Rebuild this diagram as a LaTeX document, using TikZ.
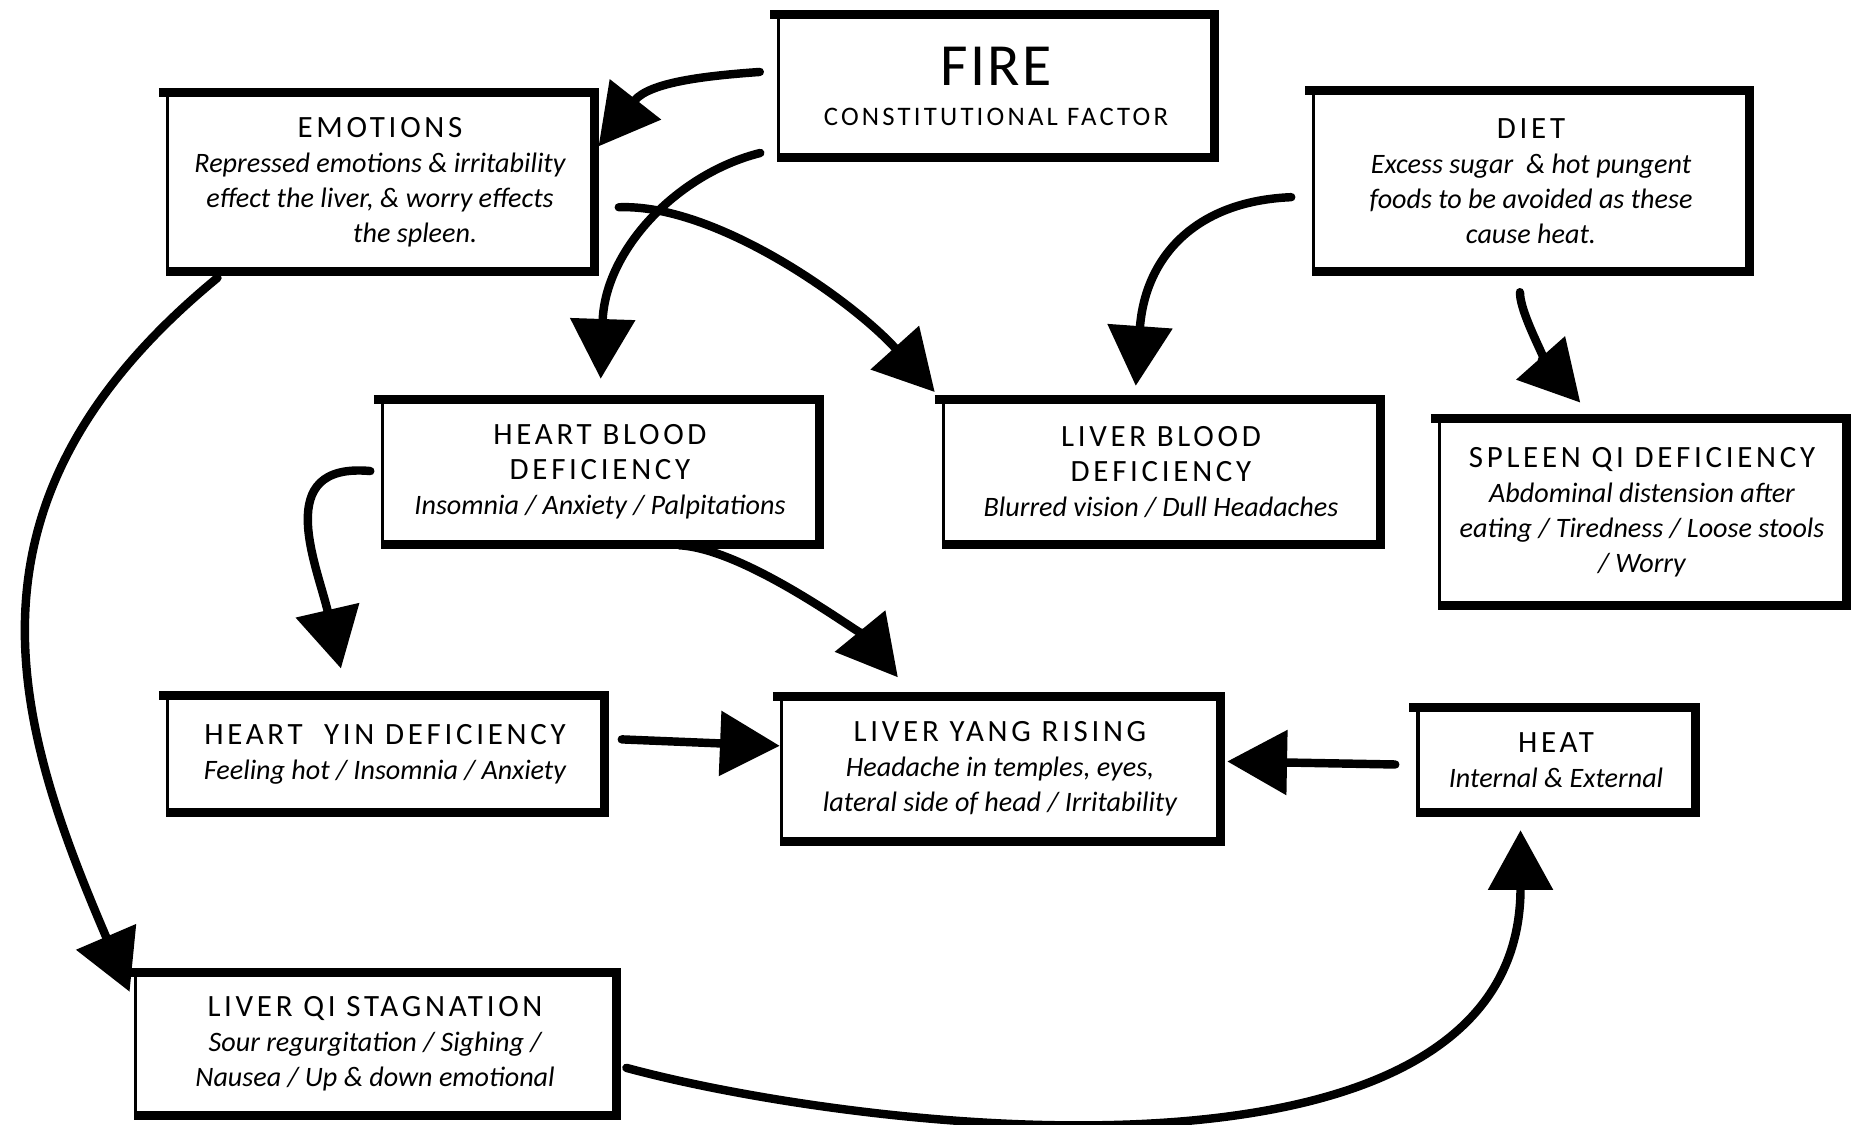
\documentclass[tikz,border=0pt]{standalone}
\usepackage{fontspec}
\setmainfont{Carlito}
\newfontfamily\ttlfont[LetterSpace=12]{Carlito}
\newfontfamily\firefont[LetterSpace=4]{Carlito}
\usetikzlibrary{arrows.meta}
\newcommand{\ttl}[1]{{\ttlfont\upshape\fontsize{8.8}{10}\selectfont #1}}

\begin{document}
\begin{tikzpicture}[
    x=0.01cm, y=-0.01cm,
    >={Triangle[length=17pt,width=18pt]},
    font=\itshape\fontsize{8}{10}\selectfont,
    tcmbox/.style={draw, line width=0.9pt, align=center, inner sep=2pt},
    flow/.style={->, line width=2.4pt, line cap=round},
]
\path[use as bounding box, fill=white] (0,0) rectangle (1852,1125);

% Row 1: causes
\node[tcmbox, minimum width=4.34cm, minimum height=1.39cm] (fire) at (996,86) {%
    {\firefont\upshape\fontsize{17}{18}\selectfont FIRE}\\[1.4pt]
    {\ttlfont\upshape\fontsize{7.6}{10}\selectfont CONSTITUTIONAL FACTOR}};
\node[tcmbox, minimum width=4.25cm, minimum height=1.75cm] (emo) at (380,182) {%
    \ttl{EMOTIONS}\\
    Repressed emotions \& irritability\\
    effect the liver, \& worry effects\\
    \hspace*{20pt}the spleen.};
\node[tcmbox, minimum width=4.34cm, minimum height=1.77cm] (diet) at (1531,181) {%
    \ttl{DIET}\\
    Excess sugar~ \& hot pungent\\
    foods to be avoided as these\\
    cause heat.};

% Row 2: deficiencies
\node[tcmbox, minimum width=4.35cm, minimum height=1.41cm] (hblood) at (600,472) {%
    \ttl{HEART BLOOD}\\ \ttl{DEFICIENCY}\\
    Insomnia / Anxiety / Palpitations};
\node[tcmbox, minimum width=4.35cm, minimum height=1.41cm] (lblood) at (1161,472) {%
    \ttl{LIVER BLOOD}\\ \ttl{DEFICIENCY}\\
    Blurred vision / Dull Headaches};
\node[tcmbox, minimum width=4.05cm, minimum height=1.84cm] (spleen) at (1642,512) {%
    \ttl{SPLEEN QI DEFICIENCY}\\
    Abdominal distension after\\
    eating / Tiredness / Loose stools\\
    / Worry};

% Row 3: yin, yang, heat
\node[tcmbox, minimum width=4.35cm, minimum height=1.13cm] (hyin) at (385,754) {%
    \ttl{HEART~ YIN DEFICIENCY}\\
    Feeling hot / Insomnia / Anxiety};
\node[tcmbox, minimum width=4.37cm, minimum height=1.42cm] (lyang) at (1000,769) {%
    \ttl{LIVER YANG RISING}\\
    Headache in temples, eyes,\\
    lateral side of head / Irritability};
\node[tcmbox, minimum width=2.76cm, minimum height=1.02cm] (heat) at (1556,760) {%
    \ttl{HEAT}\\
    Internal \& External};

% Row 4: stagnation
\node[tcmbox, minimum width=4.79cm, minimum height=1.39cm] (lqi) at (375,1044) {%
    \ttl{LIVER QI STAGNATION}\\
    Sour regurgitation / Sighing /\\
    Nausea / Up \& down emotional};

% heavy brush edges (top, right, bottom)
\foreach \n in {fire,emo,diet,hblood,lblood,spleen,hyin,lyang,heat,lqi}
    \draw[line width=2.6pt] ([xshift=-2pt]\n.north west) -- (\n.north east)
        -- (\n.south east) -- (\n.south west);

% Fire
\draw[flow, shorten <=5pt, shorten >=2pt] (fire.176) .. controls +(-70,5) and +(55,-70) .. (emo.8);
\draw[flow, shorten <=5pt, shorten >=6pt] (fire.196) .. controls +(-100,25) and +(5,-150) .. (hblood.north);

% Emotions
\draw[flow, shorten <=7pt, shorten >=3pt] (emo.353) .. controls +(120,-5) and +(-90,-100) .. (lblood.north west);
\draw[flow, shorten <=3pt, shorten >=3pt] (emo.210) .. controls +(-280,230) and +(-120,-280) .. (lqi.170);

% Diet
\draw[flow, shorten <=6pt, shorten >=4pt] (diet.184) .. controls +(-120,5) and +(10,-140) .. (lblood.110);
\draw[flow, shorten <=6pt, shorten >=6pt] (diet.263) .. controls +(0,45) and +(-40,-45) .. (spleen.117);

% Heart blood
\draw[flow, shorten <=3pt, shorten >=8pt] (hblood.west) .. controls +(-110,-10) and +(-30,-130) .. (hyin.123);
\draw[flow, shorten <=6pt, shorten >=7pt] (hblood.309) .. controls +(90,5) and +(-45,-55) .. (lyang.140);

% into liver yang
\draw[flow, shorten <=5pt] (hyin.4) -- (lyang.174);
\draw[flow, shorten <=6pt, shorten >=2pt] (heat.182) -- (lyang.2);

% liver qi back round to heat
\draw[flow, shorten <=3pt, shorten >=5pt] (lqi.355) .. controls +(240,65) and +(0,400) .. (heat.236);
\end{tikzpicture}
\end{document}
